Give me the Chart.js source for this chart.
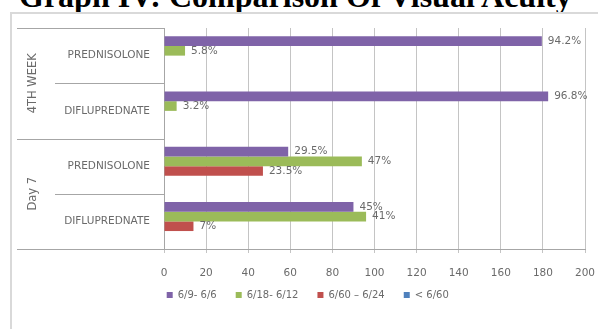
<!DOCTYPE html>
<html>
<head>
<meta charset="utf-8">
<script src="https://cdn.jsdelivr.net/npm/chart.js@4/dist/chart.umd.min.js"></script>
<style>
  html, body { margin: 0; padding: 0; background: #fff; }
  #wrap { position: relative; width: 598px; height: 329px; overflow: hidden; }
  #title {
    position: absolute; left: 19px; top: -20px; white-space: nowrap;
    font: bold 32px/32px "Liberation Serif", "DejaVu Serif", serif; color: #000;
  }
  #frame {
    position: absolute; left: 10px; top: 12px; width: 620px; height: 340px;
    border: 2px solid #d9d9d9; box-sizing: border-box;
  }
  #chart { position: absolute; left: 0; top: 0; }
</style>
</head>
<body>
<div id="wrap">
  <div id="title">Graph IV: Comparison Of Visual Acuity</div>
  <div id="frame"></div>
  <canvas id="chart" width="598" height="329"></canvas>
</div>
<script>
// Categories (inner level) and their groups (outer level)
const categories = ["PREDNISOLONE", "DIFLUPREDNATE", "PREDNISOLONE", "DIFLUPREDNATE"]
const groups = ["4TH WEEK", "Day 7"]
const groupSizes = [2, 2]

// Series names
const seriesNames = ["6/9- 6/6", "6/18- 6/12", "6/60 \u2013 6/24", "< 6/60"]

// Bar lengths
const goodValues = [179.5, 182.5, 59, 90]
const midValues = [10, 6, 94, 96]
const poorValues = [0, 0, 47, 14]
const worstValues = [0, 0, 0, 0]

// Data labels shown next to the bars
const goodLabels = ["94.2%", "96.8%", "29.5%", "45%"]
const midLabels = ["5.8%", "3.2%", "47%", "41%"]
const poorLabels = ["", "", "23.5%", "7%"]
const worstLabels = ["", "", "", ""]

// X axis
const xMin = 0
const xMax = 200
const xStep = 20

const colors = ["#7f63a8", "#9bbb59", "#c0504d", "#4f81bd"]
const labelFont = '"DejaVu Sans", sans-serif'

// Draws the grouped category labels, separators and the bar value labels
const extrasPlugin = {
    id: "extras",
    afterDraw(chart) {
        const ctx = chart.ctx
        const y = chart.scales.y
        const area = chart.chartArea

        // Category boundaries
        const bounds = [area.top]
        for (let i = 1; i < categories.length; i++) {
            bounds.push((y.getPixelForTick(i - 1) + y.getPixelForTick(i)) / 2)
        }
        bounds.push(area.bottom)

        // Where the groups start
        const groupStarts = [0]
        for (let s of groupSizes) groupStarts.push(groupStarts[groupStarts.length - 1] + s)

        ctx.save()
        ctx.strokeStyle = "#a6a6a6"
        ctx.lineWidth = 1
        bounds.forEach((b, i) => {
            const x0 = groupStarts.includes(i) ? 17 : 55
            ctx.beginPath()
            ctx.moveTo(x0, Math.round(b) + 0.5)
            ctx.lineTo(area.left, Math.round(b) + 0.5)
            ctx.stroke()
        })

        // Group labels, rotated
        ctx.fillStyle = "#6a6a6a"
        ctx.font = "11.5px " + labelFont
        ctx.textAlign = "center"
        ctx.textBaseline = "middle"
        groups.forEach((g, i) => {
            const mid = (bounds[groupStarts[i]] + bounds[groupStarts[i + 1]]) / 2
            ctx.save()
            ctx.translate(33, mid)
            ctx.rotate(-Math.PI / 2)
            ctx.fillText(g, 0, 0)
            ctx.restore()
        })

        // Value labels
        ctx.font = "10.5px " + labelFont
        ctx.textAlign = "left"
        chart.data.datasets.forEach((ds, di) => {
            const meta = chart.getDatasetMeta(di)
            meta.data.forEach((bar, i) => {
                const text = ds.valueLabels[i]
                if (!text) return
                ctx.fillText(text, bar.x + 6, bar.y)
            })
        })
        ctx.restore()
    }
}

const datasets = [
    [goodValues, goodLabels],
    [midValues, midLabels],
    [poorValues, poorLabels],
    [worstValues, worstLabels]
].map(([values, labels], i) => ({
    label: seriesNames[i],
    data: values,
    valueLabels: labels,
    backgroundColor: colors[i],
    borderWidth: 0,
    categoryPercentage: 0.7,
    barPercentage: 1.0
}))

new Chart(document.getElementById("chart"), {
    type: "bar",
    data: { labels: categories, datasets },
    options: {
        indexAxis: "y",
        responsive: false,
        animation: false,
        devicePixelRatio: 1,
        layout: { padding: { left: 40, top: 28, right: 13, bottom: 19 } },
        plugins: {
            legend: {
                position: "bottom",
                labels: {
                    boxWidth: 6,
                    boxHeight: 6,
                    padding: 9.5,
                    color: "#6a6a6a",
                    font: { family: labelFont, size: 10 },
                    // extra room after each entry, like the spacing in the original
                    generateLabels(chart) {
                        const items = Chart.defaults.plugins.legend.labels.generateLabels(chart)
                        items.forEach(item => { item.text = item.text + "   " })
                        return items
                    }
                }
            },
            tooltip: { enabled: false }
        },
        scales: {
            x: {
                min: xMin,
                max: xMax,
                ticks: {
                    stepSize: xStep,
                    color: "#6a6a6a",
                    padding: 14,
                    font: { family: labelFont, size: 10.5 }
                },
                grid: { color: "#c4c4c4", drawTicks: true, tickLength: 4 },
                border: { color: "#a6a6a6" },
                afterFit(scale) {
                    scale.height = 31.5
                    scale.paddingLeft = 0
                    scale.paddingRight = 0
                }
            },
            y: {
                ticks: {
                    color: "#6a6a6a",
                    padding: 14,
                    font: { family: labelFont, size: 10.5 }
                },
                grid: { display: false, drawTicks: false },
                border: { color: "#a6a6a6" },
                afterFit(scale) { scale.width = 124 }
            }
        }
    },
    plugins: [extrasPlugin]
})
</script>
</body>
</html>
